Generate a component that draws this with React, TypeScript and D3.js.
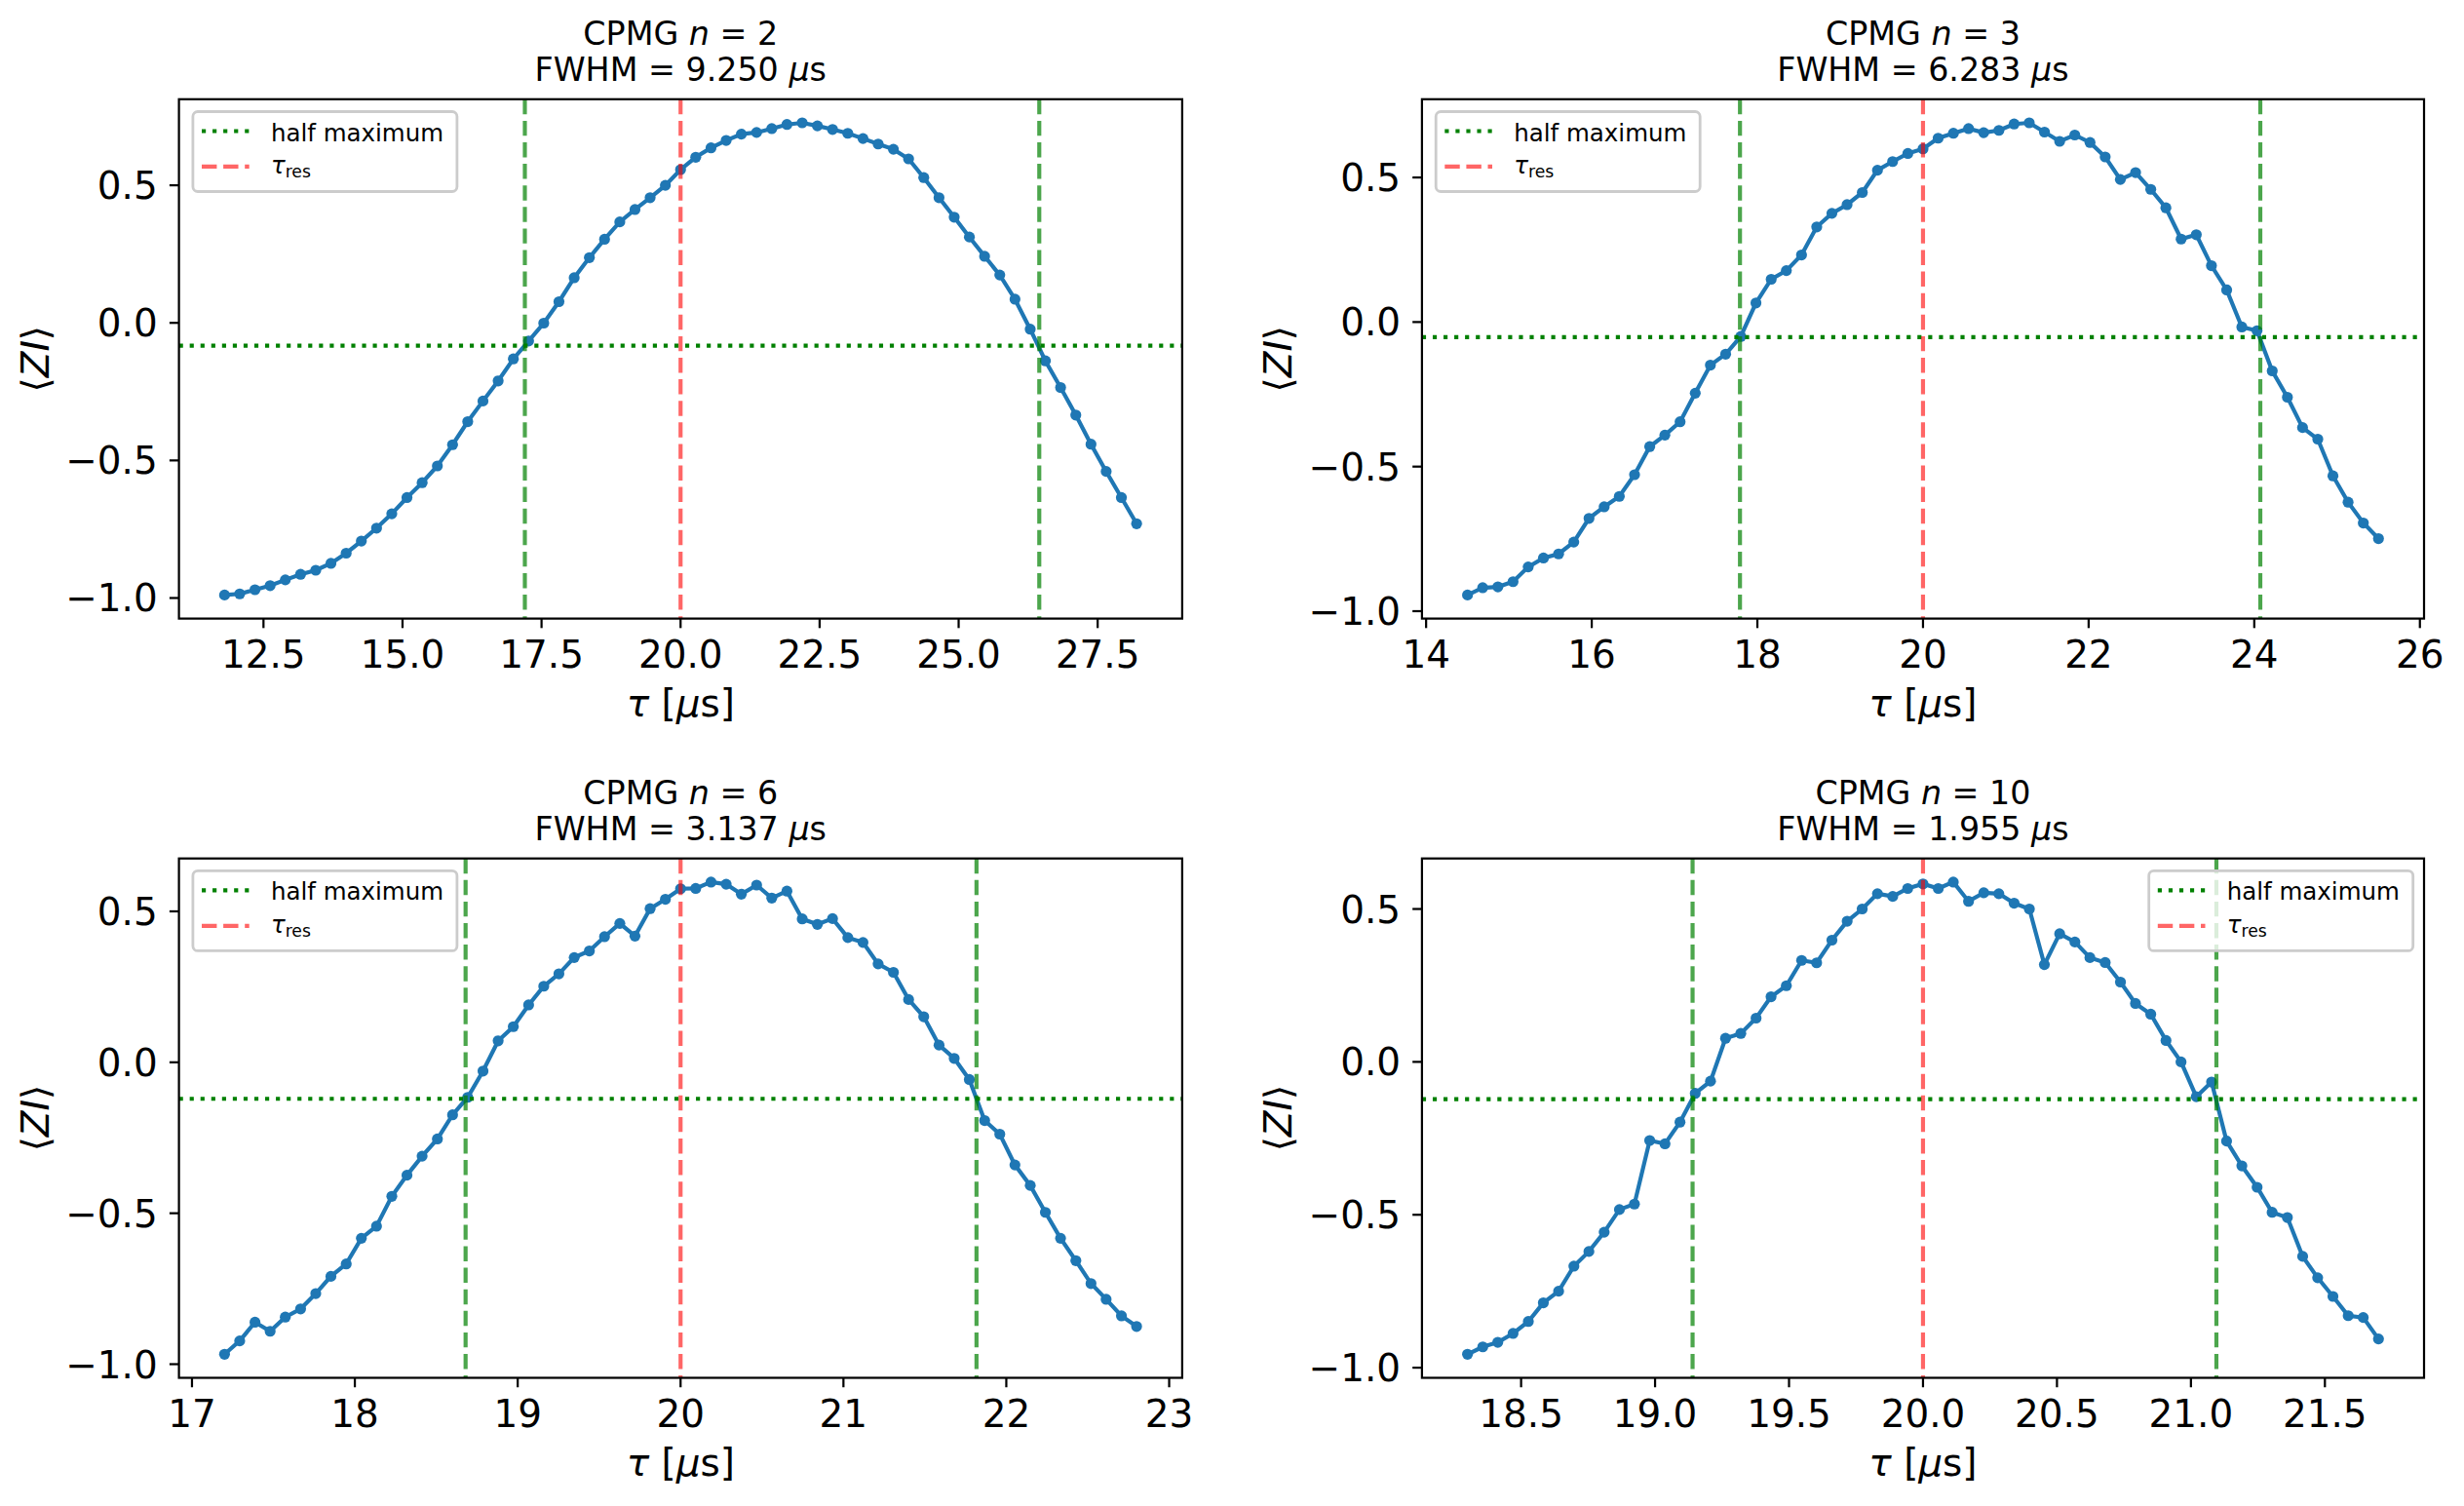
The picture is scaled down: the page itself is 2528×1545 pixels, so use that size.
import * as React from "react";
import * as d3 from "d3";

// CPMG n = 2
const tauN2 = [
  11.8, 12.073, 12.347, 12.62, 12.893, 13.167, 13.44, 13.713, 13.987, 14.26, 14.533, 14.807, 15.08,
  15.353, 15.627, 15.9, 16.173, 16.447, 16.72, 16.993, 17.267, 17.54, 17.813, 18.087, 18.36, 18.633,
  18.907, 19.18, 19.453, 19.727, 20.0, 20.273, 20.547, 20.82, 21.093, 21.367, 21.64, 21.913, 22.187,
  22.46, 22.733, 23.007, 23.28, 23.553, 23.827, 24.1, 24.373, 24.647, 24.92, 25.193, 25.467, 25.74,
  26.013, 26.287, 26.56, 26.833, 27.107, 27.38, 27.653, 27.927, 28.2,
];
const ziN2 = [
  -0.989, -0.985, -0.97, -0.955, -0.934, -0.914, -0.899, -0.874, -0.837, -0.793, -0.746, -0.694, -0.635,
  -0.581, -0.52, -0.443, -0.359, -0.284, -0.211, -0.131, -0.066, -0.001, 0.077, 0.164, 0.237, 0.304,
  0.367, 0.412, 0.455, 0.5, 0.557, 0.602, 0.636, 0.663, 0.686, 0.692, 0.706, 0.721, 0.727, 0.716, 0.703,
  0.689, 0.67, 0.65, 0.631, 0.596, 0.528, 0.455, 0.384, 0.312, 0.242, 0.174, 0.086, -0.023, -0.138,
  -0.235, -0.335, -0.441, -0.54, -0.635, -0.73,
];

// CPMG n = 3
const tauN3 = [
  14.5, 14.683, 14.867, 15.05, 15.233, 15.417, 15.6, 15.783, 15.967, 16.15, 16.333, 16.517, 16.7,
  16.883, 17.067, 17.25, 17.433, 17.617, 17.8, 17.983, 18.167, 18.35, 18.533, 18.717, 18.9, 19.083,
  19.267, 19.45, 19.633, 19.817, 20.0, 20.183, 20.367, 20.55, 20.733, 20.917, 21.1, 21.283, 21.467,
  21.65, 21.833, 22.017, 22.2, 22.383, 22.567, 22.75, 22.933, 23.117, 23.3, 23.483, 23.667, 23.85,
  24.033, 24.217, 24.4, 24.583, 24.767, 24.95, 25.133, 25.317, 25.5,
];
const ziN3 = [
  -0.944, -0.919, -0.916, -0.898, -0.847, -0.816, -0.802, -0.761, -0.679, -0.639, -0.603, -0.528, -0.431,
  -0.391, -0.345, -0.246, -0.149, -0.111, -0.05, 0.066, 0.148, 0.178, 0.232, 0.329, 0.376, 0.406, 0.448,
  0.525, 0.555, 0.583, 0.599, 0.636, 0.653, 0.669, 0.655, 0.663, 0.685, 0.689, 0.657, 0.625, 0.647,
  0.621, 0.571, 0.493, 0.517, 0.459, 0.395, 0.287, 0.302, 0.195, 0.111, -0.017, -0.03, -0.169, -0.26,
  -0.365, -0.405, -0.532, -0.623, -0.695, -0.749,
];

// CPMG n = 6
const tauN6 = [
  17.2, 17.293, 17.387, 17.48, 17.573, 17.667, 17.76, 17.853, 17.947, 18.04, 18.133, 18.227, 18.32,
  18.413, 18.507, 18.6, 18.693, 18.787, 18.88, 18.973, 19.067, 19.16, 19.253, 19.347, 19.44, 19.533,
  19.627, 19.72, 19.813, 19.907, 20.0, 20.093, 20.187, 20.28, 20.373, 20.467, 20.56, 20.653, 20.747,
  20.84, 20.933, 21.027, 21.12, 21.213, 21.307, 21.4, 21.493, 21.587, 21.68, 21.773, 21.867, 21.96,
  22.053, 22.147, 22.24, 22.333, 22.427, 22.52, 22.613, 22.707, 22.8,
];
const ziN6 = [
  -0.967, -0.923, -0.861, -0.891, -0.844, -0.817, -0.766, -0.709, -0.668, -0.583, -0.543, -0.444, -0.374,
  -0.311, -0.254, -0.174, -0.116, -0.029, 0.071, 0.118, 0.19, 0.252, 0.293, 0.347, 0.369, 0.416, 0.46,
  0.418, 0.509, 0.54, 0.575, 0.576, 0.597, 0.59, 0.557, 0.587, 0.544, 0.567, 0.475, 0.457, 0.476, 0.413,
  0.397, 0.326, 0.298, 0.208, 0.151, 0.057, 0.013, -0.057, -0.193, -0.238, -0.34, -0.408, -0.497,
  -0.583, -0.657, -0.733, -0.785, -0.84, -0.875,
];

// CPMG n = 10
const tauN10 = [
  18.3, 18.357, 18.413, 18.47, 18.527, 18.583, 18.64, 18.697, 18.753, 18.81, 18.867, 18.923, 18.98,
  19.037, 19.093, 19.15, 19.207, 19.263, 19.32, 19.377, 19.433, 19.49, 19.547, 19.603, 19.66, 19.717,
  19.773, 19.83, 19.887, 19.943, 20.0, 20.057, 20.113, 20.17, 20.227, 20.283, 20.34, 20.397, 20.453,
  20.51, 20.567, 20.623, 20.68, 20.737, 20.793, 20.85, 20.907, 20.963, 21.02, 21.077, 21.133, 21.19,
  21.247, 21.303, 21.36, 21.417, 21.473, 21.53, 21.587, 21.643, 21.7,
];
const ziN10 = [
  -0.956, -0.932, -0.917, -0.888, -0.849, -0.788, -0.75, -0.668, -0.62, -0.557, -0.483, -0.465, -0.257,
  -0.268, -0.197, -0.103, -0.063, 0.077, 0.093, 0.143, 0.213, 0.249, 0.332, 0.324, 0.398, 0.46, 0.5,
  0.55, 0.541, 0.567, 0.582, 0.567, 0.588, 0.525, 0.553, 0.55, 0.519, 0.5, 0.318, 0.419, 0.392, 0.341,
  0.325, 0.261, 0.191, 0.156, 0.07, 0.0, -0.114, -0.066, -0.259, -0.34, -0.41, -0.492, -0.509, -0.636,
  -0.706, -0.767, -0.83, -0.836, -0.906,
];

const pulseCounts = [2, 3, 6, 10];
const fwhmLabels = ["9.250", "6.283", "3.137", "1.955"];
const halfMaxima = [-0.083, -0.052, -0.121, -0.122];
const halfMaxLeft = [17.2, 17.79, 18.68, 19.14];
const halfMaxRight = [26.45, 24.073, 21.817, 21.095];
const tauRes = 20;

const xTicksN2 = [12.5, 15, 17.5, 20, 22.5, 25, 27.5];
const xTicksN3 = [14, 16, 18, 20, 22, 24, 26];
const xTicksN6 = [17, 18, 19, 20, 21, 22, 23];
const xTicksN10 = [18.5, 19, 19.5, 20, 20.5, 21, 21.5];
const yTicks = [-1.0, -0.5, 0.0, 0.5];

const FONT = "DejaVu Sans";
const BLUE = "#1f77b4";
const PT = 2.78;

type PanelProps = {
  left: number;
  top: number;
  width: number;
  height: number;
  tau: number[];
  zi: number[];
  xTicks: number[];
  xFormat: string;
  idx: number;
  legendRight?: boolean;
};

const padded = (v: number[]): [number, number] => {
  const [lo, hi] = d3.extent(v) as [number, number];
  const m = (hi - lo) * 0.05;
  return [lo - m, hi + m];
};

const Panel = ({ left, top, width, height, tau, zi, xTicks, xFormat, idx, legendRight }: PanelProps) => {
  const x = d3.scaleLinear().domain(padded(tau)).range([left, left + width]);
  const y = d3.scaleLinear().domain(padded(zi)).range([top + height, top]);
  const line = d3
    .line<number>()
    .x((_, i) => x(tau[i]))
    .y((d) => y(d));
  const fx = d3.format(xFormat);
  const fy = d3.format(".1f");
  const bottom = top + height;
  const right = left + width;
  const tickLen = 3.5 * PT;

  const lgW = 271;
  const lgH = 82;
  const lgX = legendRight ? right - 11.3 - lgW : left + 14.3;
  const lgY = top + 12.7;

  return (
    <g fontFamily={FONT}>
      {/* data */}
      <path d={line(zi) ?? ""} fill="none" stroke={BLUE} strokeWidth={1.5 * PT} />
      {zi.map((d, i) => (
        <circle key={i} cx={x(tau[i])} cy={y(d)} r={5.6} fill={BLUE} />
      ))}

      {/* half maximum + resonance markers */}
      <line
        x1={left}
        x2={right}
        y1={y(halfMaxima[idx])}
        y2={y(halfMaxima[idx])}
        stroke="green"
        strokeWidth={1.5 * PT}
        strokeDasharray={`${1.5 * PT} ${2.475 * PT}`}
      />
      {[halfMaxLeft[idx], halfMaxRight[idx]].map((v, i) => (
        <line
          key={i}
          x1={x(v)}
          x2={x(v)}
          y1={top}
          y2={bottom}
          stroke="green"
          strokeOpacity={0.7}
          strokeWidth={1.5 * PT}
          strokeDasharray={`${5.55 * PT} ${2.4 * PT}`}
        />
      ))}
      <line
        x1={x(tauRes)}
        x2={x(tauRes)}
        y1={top}
        y2={bottom}
        stroke="red"
        strokeOpacity={0.6}
        strokeWidth={1.5 * PT}
        strokeDasharray={`${5.55 * PT} ${2.4 * PT}`}
      />

      {/* axes frame */}
      <rect x={left} y={top} width={width} height={height} fill="none" stroke="black" strokeWidth={0.8 * PT} />

      {xTicks.map((t) => (
        <g key={t}>
          <line x1={x(t)} x2={x(t)} y1={bottom} y2={bottom + tickLen} stroke="black" strokeWidth={0.8 * PT} />
          <text x={x(t)} y={bottom + 50.4} fontSize={38.9} textAnchor="middle">
            {fx(t)}
          </text>
        </g>
      ))}
      {yTicks.map((t) => (
        <g key={t}>
          <line x1={left - tickLen} x2={left} y1={y(t)} y2={y(t)} stroke="black" strokeWidth={0.8 * PT} />
          <text x={left - 21.9} y={y(t) + 14} fontSize={38.9} textAnchor="end">
            {fy(t)}
          </text>
        </g>
      ))}

      {/* labels */}
      <text x={left + width / 2} y={bottom + 100.4} fontSize={38.9} textAnchor="middle">
        <tspan fontStyle="italic">τ</tspan>
        <tspan> [</tspan>
        <tspan fontStyle="italic">μ</tspan>
        <tspan>s]</tspan>
      </text>
      <text
        x={left - 133.6}
        y={top + height / 2}
        fontSize={38.9}
        textAnchor="middle"
        transform={`rotate(-90 ${left - 133.6} ${top + height / 2})`}
      >
        <tspan>⟨</tspan>
        <tspan fontStyle="italic">ZI</tspan>
        <tspan>⟩</tspan>
      </text>
      <text x={left + width / 2} y={top - 56.1} fontSize={33.3} textAnchor="middle">
        <tspan>CPMG </tspan>
        <tspan fontStyle="italic">n</tspan>
        <tspan> = {pulseCounts[idx]}</tspan>
      </text>
      <text x={left + width / 2} y={top - 18.8} fontSize={33.3} textAnchor="middle">
        <tspan>FWHM = {fwhmLabels[idx]} </tspan>
        <tspan fontStyle="italic">μ</tspan>
        <tspan>s</tspan>
      </text>

      {/* legend */}
      <g>
        <rect
          x={lgX}
          y={lgY}
          width={lgW}
          height={lgH}
          rx={5}
          fill="white"
          fillOpacity={0.8}
          stroke="#cccccc"
          strokeWidth={2.8}
        />
        <line
          x1={lgX + 9.1}
          x2={lgX + 57.8}
          y1={lgY + 20}
          y2={lgY + 20}
          stroke="green"
          strokeWidth={1.5 * PT}
          strokeDasharray={`${1.5 * PT} ${2.475 * PT}`}
        />
        <text x={lgX + 80} y={lgY + 30} fontSize={24.5}>
          half maximum
        </text>
        <line
          x1={lgX + 9.1}
          x2={lgX + 57.8}
          y1={lgY + 56.4}
          y2={lgY + 56.4}
          stroke="red"
          strokeOpacity={0.6}
          strokeWidth={1.5 * PT}
          strokeDasharray={`${5.55 * PT} ${2.4 * PT}`}
        />
        <text x={lgX + 80} y={lgY + 63.2} fontSize={24.5}>
          <tspan fontStyle="italic">τ</tspan>
          <tspan fontSize={17.2} dy={4.6}>
            res
          </tspan>
        </text>
      </g>
    </g>
  );
};

export default function App() {
  const W = 1029.3;
  const H = 532.8;
  const cols = [183.6, 1458.9];
  const rows = [101.8, 880.7];
  return (
    <svg
      width={2528}
      height={1545}
      style={{ position: "absolute", left: 0, top: 0, background: "white" }}
    >
      <rect width={2528} height={1545} fill="white" />
      <Panel left={cols[0]} top={rows[0]} width={W} height={H} tau={tauN2} zi={ziN2} xTicks={xTicksN2} xFormat=".1f" idx={0} />
      <Panel left={cols[1]} top={rows[0]} width={W - 1.2} height={H} tau={tauN3} zi={ziN3} xTicks={xTicksN3} xFormat="d" idx={1} />
      <Panel left={cols[0]} top={rows[1]} width={W} height={H} tau={tauN6} zi={ziN6} xTicks={xTicksN6} xFormat="d" idx={2} />
      <Panel
        left={cols[1]}
        top={rows[1]}
        width={W - 1.2}
        height={H}
        tau={tauN10}
        zi={ziN10}
        xTicks={xTicksN10}
        xFormat=".1f"
        idx={3}
        legendRight
      />
    </svg>
  );
}
